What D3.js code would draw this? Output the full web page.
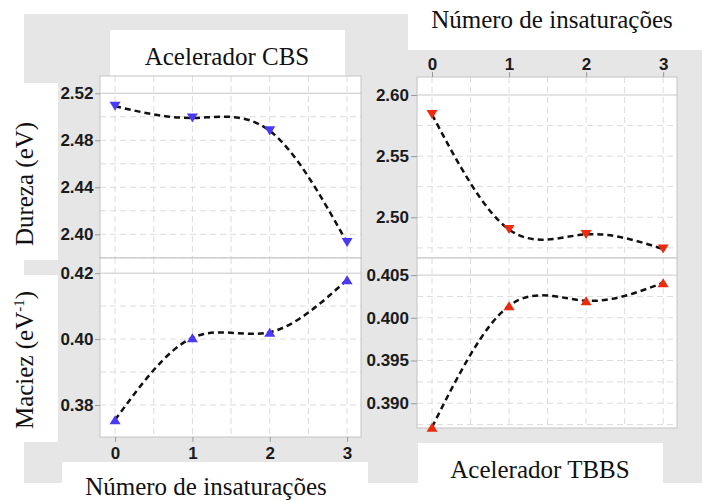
<!DOCTYPE html>
<html>
<head>
<meta charset="utf-8">
<script src="https://cdn.jsdelivr.net/npm/d3@7"></script>
<style>
  html, body { margin: 0; padding: 0; background: #fff; }
  svg { display: block; }
  .tick text { font-family: "Liberation Sans", Arial, sans-serif; font-weight: bold; font-size: 17px; fill: #1a1a1a; }
  .tick line { stroke: #9a9a9a; }
  .title { font-family: "Liberation Serif", "Times New Roman", serif; font-size: 25px; fill: #111; }
</style>
</head>
<body>
<svg id="chart" width="702" height="500"></svg>
<script>
// Número de insaturações (x) and the measured descriptors for each accelerator
const insaturacoes = [0, 1, 2, 3];
const durezaCBS  = [2.509, 2.499, 2.488, 2.393];
const durezaTBBS = [2.584, 2.490, 2.486, 2.474];
const maciezCBS  = [0.3755, 0.4004, 0.4021, 0.4180];
const maciezTBBS = [0.3872, 0.4014, 0.4020, 0.4041];

// Tick labels
const xTicks = [0, 1, 2, 3];
const durezaCBSTicks  = [2.40, 2.44, 2.48, 2.52];
const durezaTBBSTicks = [2.50, 2.55, 2.60];
const maciezCBSTicks  = [0.38, 0.40, 0.42];
const maciezTBBSTicks = [0.390, 0.395, 0.400, 0.405];

// Axis limits
const xLimits = [-0.195, 3.18];
const durezaCBSLimits  = [2.3798, 2.5347];
const durezaTBBSLimits = [2.4667, 2.6147];
const maciezCBSLimits  = [0.3703, 0.4246];
const maciezTBBSLimits = [0.3871, 0.4070];

const svg = d3.select("#chart");

// Grey backdrop with white label boxes on top
svg.append("rect").attr("x", 24).attr("y", 14).attr("width", 678).attr("height", 469).attr("fill", "#e6e6e6");
const whiteBoxes = [
  [408, 0, 294, 50],    // top x-axis title
  [110, 30, 235, 46],   // Acelerador CBS
  [24, 83, 34, 177],    // Dureza
  [24, 275, 34, 167],   // Maciez
  [62, 462, 306, 38],   // bottom x-axis title
  [418, 443, 245, 40]   // Acelerador TBBS
];
svg.selectAll("rect.box").data(whiteBoxes).join("rect")
  .attr("class", "box")
  .attr("x", d => d[0]).attr("y", d => d[1])
  .attr("width", d => d[2]).attr("height", d => d[3])
  .attr("fill", "#fff");

// Triangle centred on its bounding box (pointing down or up)
function triangle(down) {
  return {
    draw(ctx, size) {
      const w = Math.sqrt(size), h = w * 0.82;
      if (down) {
        ctx.moveTo(-w / 2, -h / 2); ctx.lineTo(w / 2, -h / 2); ctx.lineTo(0, h / 2);
      } else {
        ctx.moveTo(-w / 2, h / 2); ctx.lineTo(w / 2, h / 2); ctx.lineTo(0, -h / 2);
      }
      ctx.closePath();
    }
  };
}

const panels = [
  { values: durezaCBS,  ticks: durezaCBSTicks,  limits: durezaCBSLimits,  fmt: ".2f",
    left: 100, right: 361, top: 76, bottom: 258, color: "#4a3af6", down: true,
    tickSize: 5, tickPad: 1.5, xAxis: null },
  { values: durezaTBBS, ticks: durezaTBBSTicks, limits: durezaTBBSLimits, fmt: ".2f",
    left: 417, right: 677, top: 77, bottom: 258, color: "#ee2a0c", down: true,
    tickSize: 6, tickPad: 2, xAxis: "top" },
  { values: maciezCBS,  ticks: maciezCBSTicks,  limits: maciezCBSLimits,  fmt: ".2f",
    left: 100, right: 361, top: 258, bottom: 437, color: "#4a3af6", down: false,
    tickSize: 5, tickPad: 1.5, xAxis: "bottom" },
  { values: maciezTBBS, ticks: maciezTBBSTicks, limits: maciezTBBSLimits, fmt: ".3f",
    left: 417, right: 677, top: 258, bottom: 428, color: "#ee2a0c", down: false,
    tickSize: 6, tickPad: 2, xAxis: null }
];

panels.forEach(p => {
  const x = d3.scaleLinear().domain(xLimits).range([p.left, p.right]);
  const y = d3.scaleLinear().domain(p.limits).range([p.bottom, p.top]);
  const g = svg.append("g");

  g.append("rect")
    .attr("x", p.left).attr("y", p.top)
    .attr("width", p.right - p.left).attr("height", p.bottom - p.top)
    .attr("fill", "#fff");

  // dashed grid: every half step on both axes
  const half = (p.ticks[1] - p.ticks[0]) / 2;
  const top = d3.max(p.ticks);
  const hGrid = [];
  for (let v = top - half; v >= p.limits[0] - 1e-9; v -= half) hGrid.push(v);
  const vGrid = d3.range(0, 3.001, 0.5);

  g.selectAll("line.hg").data(hGrid).join("line")
    .attr("x1", p.left).attr("x2", p.right)
    .attr("y1", d => y(d)).attr("y2", d => y(d))
    .attr("stroke", "#dcdcdc").attr("stroke-dasharray", "6,4");
  g.selectAll("line.vg").data(vGrid).join("line")
    .attr("x1", d => x(d)).attr("x2", d => x(d))
    .attr("y1", p.top).attr("y2", p.bottom)
    .attr("stroke", "#dcdcdc").attr("stroke-dasharray", "6,4");
  g.append("line")
    .attr("x1", p.left).attr("x2", p.right)
    .attr("y1", y(top)).attr("y2", y(top))
    .attr("stroke", "#c8c8c8");

  g.append("rect")
    .attr("x", p.left).attr("y", p.top)
    .attr("width", p.right - p.left).attr("height", p.bottom - p.top)
    .attr("fill", "none").attr("stroke", "#c4c4c4");

  // y axis
  const ya = g.append("g").attr("transform", `translate(${p.left},0)`)
    .call(d3.axisLeft(y).tickValues(p.ticks).tickFormat(d3.format(p.fmt))
      .tickSize(p.tickSize).tickPadding(p.tickPad));
  ya.select(".domain").remove();

  // x axis
  if (p.xAxis === "top") {
    const xa = g.append("g").attr("transform", `translate(0,${p.top})`)
      .call(d3.axisTop(x).tickValues(xTicks).tickFormat(d3.format("d")).tickSize(5).tickPadding(2));
    xa.select(".domain").remove();
  } else if (p.xAxis === "bottom") {
    const xa = g.append("g").attr("transform", `translate(0,${p.bottom})`)
      .call(d3.axisBottom(x).tickValues(xTicks).tickFormat(d3.format("d")).tickSize(5).tickPadding(5));
    xa.select(".domain").remove();
  }

  const pts = insaturacoes.map((n, i) => [n, p.values[i]]);
  const line = d3.line().x(d => x(d[0])).y(d => y(d[1])).curve(d3.curveNatural);
  g.append("path").datum(pts)
    .attr("d", line)
    .attr("fill", "none").attr("stroke", "#111")
    .attr("stroke-width", 2.5).attr("stroke-dasharray", "6,4");

  g.selectAll("path.mk").data(pts).join("path")
    .attr("class", "mk")
    .attr("transform", d => `translate(${x(d[0])},${y(d[1])})`)
    .attr("d", d3.symbol().type(triangle(p.down)).size(121))
    .attr("fill", p.color);
});

// Titles
svg.append("text").attr("class", "title").attr("x", 227).attr("y", 65)
  .attr("text-anchor", "middle").text("Acelerador CBS");
svg.append("text").attr("class", "title").attr("x", 540).attr("y", 478)
  .attr("text-anchor", "middle").text("Acelerador TBBS");
svg.append("text").attr("class", "title").attr("x", 552).attr("y", 28)
  .attr("text-anchor", "middle").text("Número de insaturações");
svg.append("text").attr("class", "title").attr("x", 206).attr("y", 495)
  .attr("text-anchor", "middle").text("Número de insaturações");

svg.append("text").attr("class", "title")
  .attr("transform", "translate(33,184) rotate(-90)")
  .attr("text-anchor", "middle").text("Dureza (eV)");

const mac = svg.append("text").attr("class", "title")
  .attr("transform", "translate(33,360) rotate(-90)")
  .attr("text-anchor", "middle");
mac.append("tspan").text("Maciez (eV");
mac.append("tspan").attr("dy", -9).style("font-size", "15px").text("-1");
mac.append("tspan").attr("dy", 9).text(")");
</script>
</body>
</html>
